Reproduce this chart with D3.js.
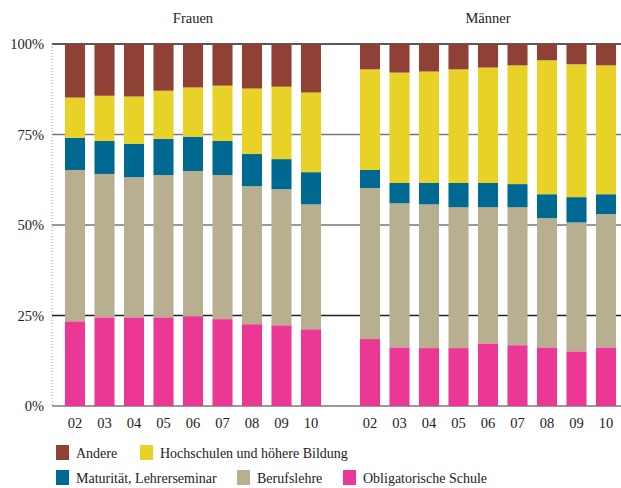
<!DOCTYPE html>
<html>
<head>
<meta charset="utf-8">
<script src="https://cdn.jsdelivr.net/npm/d3@7"></script>
<style>
  body { margin: 0; background: #fff; }
  svg text { font-family: "Liberation Serif", "DejaVu Serif", serif; fill: #222; }
</style>
</head>
<body>
<div id="chart"></div>
<script>
var w = 621;
var h = 488;

// data (percent shares)
var years = ["02", "03", "04", "05", "06", "07", "08", "09", "10"];
var groups = ["Frauen", "Männer"];
var seriesNames = ["Obligatorische Schule", "Berufslehre", "Maturität, Lehrerseminar", "Hochschulen und höhere Bildung", "Andere"];
var seriesColors = ["#ec3895", "#b8af91", "#006991", "#e8d228", "#8e4134"];

var frauenOblig = [23.4, 24.5, 24.5, 24.5, 24.8, 24.0, 22.6, 22.3, 21.2];
var frauenBeruf = [41.8, 39.6, 38.7, 39.3, 40.1, 39.8, 38.1, 37.6, 34.5];
var frauenMatur = [8.9, 9.1, 9.2, 10.0, 9.5, 9.4, 8.9, 8.3, 8.9];
var frauenHoch = [11.1, 12.5, 13.1, 13.3, 13.6, 15.3, 18.1, 20.0, 22.0];
var frauenAndere = [14.8, 14.3, 14.5, 12.9, 12.0, 11.5, 12.3, 11.8, 13.4];

var maennerOblig = [18.5, 16.2, 16.0, 16.0, 17.3, 16.8, 16.2, 15.1, 16.2];
var maennerBeruf = [41.7, 39.8, 39.7, 38.9, 37.6, 38.1, 35.7, 35.6, 36.8];
var maennerMatur = [5.0, 5.6, 5.9, 6.7, 6.7, 6.4, 6.6, 7.0, 5.5];
var maennerHoch = [27.8, 30.5, 30.8, 31.4, 31.9, 32.8, 37.0, 36.7, 35.6];
var maennerAndere = [7.0, 7.9, 7.6, 7.0, 6.5, 5.9, 4.5, 5.6, 5.9];

var yTicks = [0, 25, 50, 75, 100];

// build rows: one per bar, with an empty slot between the groups
var rows = [];
var slots = [];
years.forEach(function(y, i) {
    var key = "F" + y;
    slots.push(key);
    rows.push({ key: key, year: y, group: "Frauen", values: [frauenOblig[i], frauenBeruf[i], frauenMatur[i], frauenHoch[i], frauenAndere[i]] });
});
slots.push("gap");
years.forEach(function(y, i) {
    var key = "M" + y;
    slots.push(key);
    rows.push({ key: key, year: y, group: "Männer", values: [maennerOblig[i], maennerBeruf[i], maennerMatur[i], maennerHoch[i], maennerAndere[i]] });
});

var svg = d3.select("#chart")
    .append("svg")
    .attr("width", w)
    .attr("height", h);

var plotLeft = 52;
var plotRight = 621;

var xScale = d3.scaleBand()
    .domain(slots)
    .range([60.25, 620.75])
    .paddingInner(0.32)
    .paddingOuter(0.16);

var yScale = d3.scaleLinear()
    .domain([0, 100])
    .range([406, 44]);

// gridlines
svg.append("g")
    .attr("class", "grid")
    .selectAll("line")
    .data(yTicks)
    .enter().append("line")
    .attr("x1", plotLeft)
    .attr("x2", plotRight)
    .attr("y1", function(d) { return yScale(d); })
    .attr("y2", function(d) { return yScale(d); })
    .attr("stroke", function(d) { return (d == 100 || d == 25) ? "#222" : "#777"; })
    .attr("stroke-width", function(d) { return (d == 100 || d == 25) ? 1.3 : 1.6; });

// dotted left axis line
svg.append("line")
    .attr("x1", plotLeft)
    .attr("x2", plotLeft)
    .attr("y1", yScale(100))
    .attr("y2", yScale(0))
    .attr("stroke", "#999")
    .attr("stroke-width", 1)
    .attr("stroke-dasharray", "1,2");

// y tick labels
svg.append("g")
    .selectAll("text")
    .data(yTicks)
    .enter().append("text")
    .attr("x", 44)
    .attr("y", function(d) { return yScale(d) + 5; })
    .attr("text-anchor", "end")
    .style("font-size", "14.5px")
    .text(function(d) { return d + "%"; });

// stacked bars
var stackData = rows.map(function(r) {
    var o = { key: r.key };
    seriesNames.forEach(function(s, i) { o[s] = r.values[i]; });
    return o;
});
var stacked = d3.stack().keys(seriesNames)(stackData);

svg.append("g")
    .attr("class", "bars")
    .selectAll("g")
    .data(stacked)
    .enter().append("g")
    .attr("fill", function(d, i) { return seriesColors[i]; })
    .selectAll("rect")
    .data(function(d) { return d; })
    .enter().append("rect")
    .attr("x", function(d) { return xScale(d.data.key); })
    .attr("width", xScale.bandwidth())
    .attr("y", function(d) { return yScale(Math.min(d[1], 100)); })
    .attr("height", function(d) { return yScale(d[0]) - yScale(Math.min(d[1], 100)); });

// x labels
svg.append("g")
    .selectAll("text")
    .data(rows)
    .enter().append("text")
    .attr("x", function(d) { return xScale(d.key) + xScale.bandwidth() / 2; })
    .attr("y", 428)
    .attr("text-anchor", "middle")
    .style("font-size", "14.5px")
    .text(function(d) { return d.year; });

// group titles
svg.append("g")
    .selectAll("text")
    .data(groups)
    .enter().append("text")
    .attr("x", function(d, i) {
        var first = xScale((i == 0 ? "F" : "M") + years[0]);
        var last = xScale((i == 0 ? "F" : "M") + years[years.length - 1]) + xScale.bandwidth();
        return (first + last) / 2;
    })
    .attr("y", 23)
    .attr("text-anchor", "middle")
    .style("font-size", "14.5px")
    .text(function(d) { return d; });

// legend
var legendItems = [
    { name: seriesNames[4], color: seriesColors[4], x: 56, y: 445 },
    { name: seriesNames[3], color: seriesColors[3], x: 140, y: 445 },
    { name: seriesNames[2], color: seriesColors[2], x: 56, y: 470 },
    { name: seriesNames[1], color: seriesColors[1], x: 237, y: 470 },
    { name: seriesNames[0], color: seriesColors[0], x: 343, y: 470 }
];

var legend = svg.append("g")
    .selectAll("g")
    .data(legendItems)
    .enter().append("g")
    .attr("transform", function(d) { return "translate(" + d.x + "," + d.y + ")"; });

legend.append("rect")
    .attr("width", 13)
    .attr("height", 15)
    .attr("fill", function(d) { return d.color; });

legend.append("text")
    .attr("x", 20)
    .attr("y", 13)
    .style("font-size", "14px")
    .text(function(d) { return d.name; });
</script>
</body>
</html>
